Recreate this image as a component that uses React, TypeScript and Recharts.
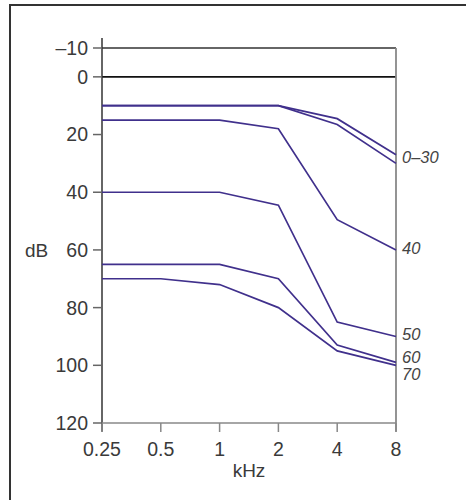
import {
  LineChart,
  Line,
  XAxis,
  YAxis,
  ReferenceLine,
  LabelList,
} from "recharts";

// frequencies (kHz) and hearing loss curves (dB)
const freqs = ["0.25", "0.5", "1", "2", "4", "8"];
const lossA = [10, 10, 10, 10, 14.5, 27];
const lossB = [10, 10, 10, 10, 16.5, 30];
const lossC = [15, 15, 15, 18, 49.5, 60];
const lossD = [40, 40, 40, 44.5, 85, 90];
const lossE = [65, 65, 65, 70, 93, 99];
const lossF = [70, 70, 72, 80, 95, 100];

const curveLabels = ["", "0–30", "40", "50", "60", "70"];
const yTicks = [-10, 0, 20, 40, 60, 80, 100, 120];

const LINE_COLOR = "#40308c";
const TEXT_COLOR = "#3a3a3a";
// vertical nudges so labels don't collide at the right edge
const labelNudge = [0, -6, -1.5, -2, -5, 9];

const series = [lossA, lossB, lossC, lossD, lossE, lossF];
const data = freqs.map((f, i) => {
  const row: Record<string, string | number> = { f };
  series.forEach((s, k) => {
    row["s" + k] = s[i];
  });
  return row;
});

const makeEndLabel = (k: number) => (props: any) => {
  const { x, y, index } = props;
  if (index !== freqs.length - 1 || !curveLabels[k]) return null;
  return (
    <text
      x={x + 6}
      y={y + labelNudge[k]}
      dominantBaseline="central"
      fontSize={16.5}
      fontStyle="italic"
      fill="#444"
    >
      {curveLabels[k]}
    </text>
  );
};

export default function App() {
  return (
    <div
      style={{
        position: "fixed",
        left: 0,
        top: 0,
        width: 466,
        height: 500,
        overflow: "hidden",
        background: "#fff",
        fontFamily: "'Liberation Sans', Arial, sans-serif",
      }}
    >
      <div
        style={{
          position: "absolute",
          left: 9,
          top: 4,
          width: 480,
          height: 520,
          borderLeft: "2px solid #333",
          borderTop: "2px solid #333",
        }}
      />
      <div style={{ position: "absolute", left: 0, top: 0 }}>
        <LineChart
          width={466}
          height={500}
          data={data}
          margin={{ top: 48, right: 70, bottom: 37, left: 20 }}
        >
          <XAxis
            dataKey="f"
            type="category"
            interval={0}
            height={40}
            tickSize={9}
            tickMargin={10}
            axisLine={{ stroke: "#888", strokeWidth: 1.5 }}
            tickLine={{ stroke: "#888", strokeWidth: 1.5 }}
            tick={{ fontSize: 19.5, fill: TEXT_COLOR }}
            label={{
              value: "kHz",
              position: "bottom",
              offset: 1,
              fontSize: 19,
              fill: TEXT_COLOR,
            }}
          />
          <YAxis
            type="number"
            reversed
            domain={[-10, 120]}
            ticks={yTicks}
            interval={0}
            width={82}
            tickSize={9}
            tickMargin={5}
            axisLine={false}
            tickLine={{ stroke: "#666", strokeWidth: 1.5 }}
            tick={{ fontSize: 19.5, fill: TEXT_COLOR }}
            tickFormatter={(v: number) => (v < 0 ? "–" + Math.abs(v) : String(v))}
            label={{
              value: "dB",
              position: "insideLeft",
              offset: 5,
              dy: 15,
              fontSize: 19,
              fill: TEXT_COLOR,
            }}
          />
          <ReferenceLine y={-10} stroke="#333" strokeWidth={1.5} />
          <ReferenceLine y={0} stroke="#111" strokeWidth={1.8} />
          <ReferenceLine
            ifOverflow="visible"
            segment={[
              { x: "0.25", y: -13.5 },
              { x: "0.25", y: 123 },
            ]}
            stroke="#333"
            strokeWidth={1.5}
          />
          <ReferenceLine
            ifOverflow="visible"
            segment={[
              { x: "8", y: -10 },
              { x: "8", y: 123 },
            ]}
            stroke="#888"
            strokeWidth={1.8}
          />
          {series.map((_, k) => (
            <Line
              key={k}
              dataKey={"s" + k}
              type="linear"
              stroke={LINE_COLOR}
              strokeWidth={1.7}
              dot={false}
              activeDot={false}
              isAnimationActive={false}
            >
              <LabelList dataKey={"s" + k} content={makeEndLabel(k)} />
            </Line>
          ))}
        </LineChart>
      </div>
    </div>
  );
}
